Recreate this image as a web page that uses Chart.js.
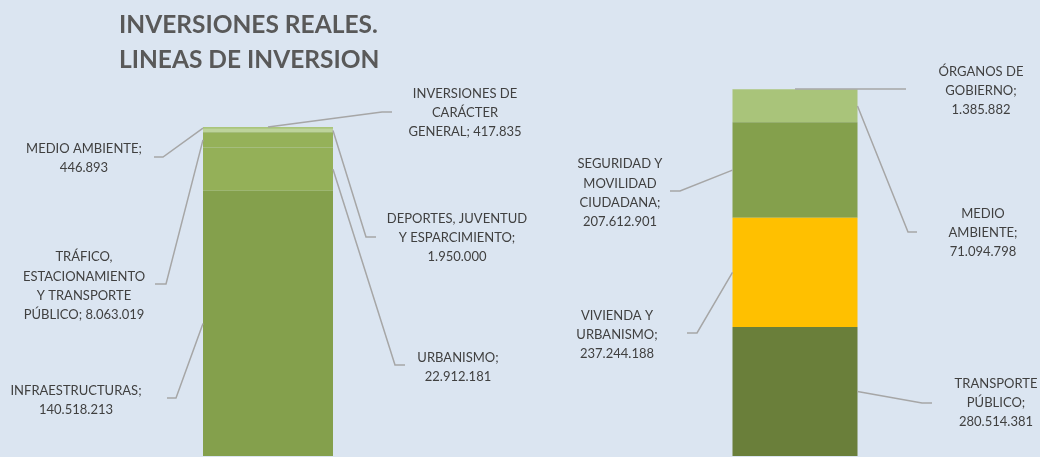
<!DOCTYPE html>
<html>
<head>
<meta charset="utf-8">
<script src="https://cdn.jsdelivr.net/npm/chart.js@4"></script>
<style>
  html, body { margin: 0; padding: 0; background: #dbe5f1; }
  #wrap { position: relative; width: 1040px; height: 457px; overflow: hidden; background: #dbe5f1; }
  #title {
    position: absolute; left: 119px; top: 6px;
    font: bold 24.5px Lato, "Liberation Sans", sans-serif;
    line-height: 35px; color: #595959;
  }
  canvas { position: absolute; top: 0; }
  #leftChart { left: 0; }
  #rightChart { left: 545px; }
</style>
</head>
<body>
<div id="wrap">
  <canvas id="leftChart" width="545" height="457"></canvas>
  <canvas id="rightChart" width="495" height="457"></canvas>
  <div id="title">INVERSIONES REALES.<br>LINEAS DE INVERSION</div>
</div>
<script>
// barra izquierda (de abajo a arriba)
const leftCategories = ['INFRAESTRUCTURAS', 'URBANISMO', 'TRÁFICO, ESTACIONAMIENTO Y TRANSPORTE PÚBLICO',
  'DEPORTES, JUVENTUD Y ESPARCIMIENTO', 'MEDIO AMBIENTE', 'INVERSIONES DE CARÁCTER GENERAL'];
const leftValues = [140518213, 22912181, 8063019, 1950000, 446893, 417835];
const leftColors = ['#84a04c', '#94b058', '#95b159', '#bdd39b', '#9bbb59', '#a1bf60'];

// barra derecha (de abajo a arriba)
const rightCategories = ['TRANSPORTE PÚBLICO', 'VIVIENDA Y URBANISMO', 'SEGURIDAD Y MOVILIDAD CIUDADANA',
  'MEDIO AMBIENTE', 'ÓRGANOS DE GOBIERNO'];
const rightValues = [280514381, 237244188, 207612901, 71094798, 1385882];
const rightColors = ['#6a7f3a', '#ffc000', '#84a04c', '#a9c47a', '#b3ca8a'];

// posición de las etiquetas: palabras por línea, centro del texto, codo y final de la guía
const leftLabels = [
  { side: 'left',  words: [1, 1],       cx: 76,  cy: 400, ex: 176, ey: 398, tx: 167 },
  { side: 'right', words: [1, 1],       cx: 458, cy: 367, ex: 395, ey: 365, tx: 405 },
  { side: 'left',  words: [1, 1, 2, 2], cx: 84,  cy: 286, ex: 166, ey: 284, tx: 155 },
  { side: 'right', words: [2, 2, 1],    cx: 457, cy: 238, ex: 366, ey: 237, tx: 376 },
  { side: 'left',  words: [2, 1],       cx: 84,  cy: 158, ex: 163, ey: 157, tx: 154 },
  { side: 'top',   words: [2, 1, 2],    cx: 465, cy: 113, ex: 382, ey: 112, tx: 392 }
];
const rightLabels = [
  { side: 'right', words: [1, 1, 1],    cx: 996, cy: 403, ex: 922, ey: 403, tx: 932 },
  { side: 'left',  words: [2, 1, 1],    cx: 617, cy: 335, ex: 697, ey: 333, tx: 687 },
  { side: 'left',  words: [2, 1, 1, 1], cx: 620, cy: 193, ex: 680, ey: 191, tx: 670 },
  { side: 'right', words: [1, 1, 1],    cx: 983, cy: 233, ex: 908, ey: 232, tx: 917 },
  { side: 'top',   words: [2, 1, 1],    cx: 981, cy: 91,  ex: 896, ey: 89,  tx: 906 }
];

function formatNum(v) {
  return String(v).replace(/\B(?=(\d{3})+(?!\d))/g, '.');
}

const leaderLabels = {
  id: 'leaderLabels',
  afterDatasetsDraw(chart, args, opts) {
    const ctx = chart.ctx;
    ctx.save();
    chart.data.datasets.forEach((ds, i) => {
      const lab = opts.items[i];
      const el = chart.getDatasetMeta(i).data[0];
      const top = Math.min(el.y, el.base), bottom = Math.max(el.y, el.base);
      let ax = el.x, ay = (top + bottom) / 2;
      if (lab.side === 'left') ax = el.x - el.width / 2;
      else if (lab.side === 'right') ax = el.x + el.width / 2;
      else ay = top;
      const off = opts.offsetX;
      ctx.strokeStyle = '#a6a6a6';
      ctx.lineWidth = 1.5;
      ctx.beginPath();
      ctx.moveTo(ax, ay);
      ctx.lineTo(lab.ex - off, lab.ey);
      ctx.lineTo(lab.tx - off, lab.ey);
      ctx.stroke();

      const words = (ds.label + '; ' + formatNum(ds.data[0])).split(' ');
      const lines = [];
      let k = 0;
      lab.words.forEach(n => { lines.push(words.slice(k, k + n).join(' ')); k += n; });
      ctx.fillStyle = '#404040';
      ctx.font = '13px Lato, "Liberation Sans", sans-serif';
      ctx.textAlign = 'center';
      ctx.textBaseline = 'middle';
      const lh = 19.3;
      const y0 = lab.cy - (lines.length - 1) * lh / 2;
      lines.forEach((t, j) => ctx.fillText(t, lab.cx - off, y0 + j * lh));
    });
    ctx.restore();
  }
};

function makeChart(id, cats, vals, colors, labels, padding, offsetX) {
  const total = vals.reduce((a, b) => a + b, 0);
  return new Chart(document.getElementById(id), {
    type: 'bar',
    data: {
      labels: [''],
      datasets: cats.map((c, i) => ({
        label: c,
        data: [vals[i]],
        backgroundColor: colors[i],
        borderWidth: 0,
        barPercentage: 0.5,
        categoryPercentage: 1
      }))
    },
    options: {
      responsive: false,
      animation: false,
      layout: { padding: padding },
      scales: {
        x: { stacked: true, display: false },
        y: { stacked: true, display: false, min: 0, max: total }
      },
      plugins: {
        legend: { display: false },
        tooltip: { enabled: false },
        leaderLabels: { items: labels, offsetX: offsetX }
      }
    },
    plugins: [leaderLabels]
  });
}

makeChart('leftChart', leftCategories, leftValues, leftColors, leftLabels,
  { top: 127, bottom: 1, left: 138, right: 147 }, 0);
makeChart('rightChart', rightCategories, rightValues, rightColors, rightLabels,
  { top: 89, bottom: 1, left: 125, right: 120 }, 545);
</script>
</body>
</html>
